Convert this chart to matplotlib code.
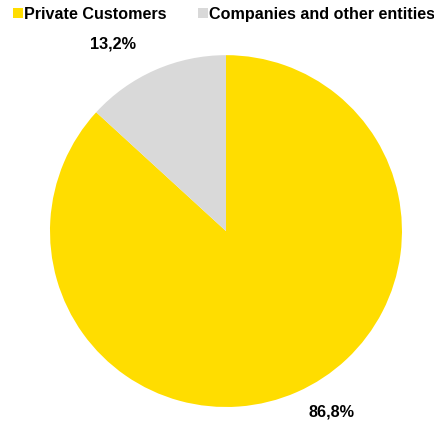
import matplotlib.pyplot as plt
from matplotlib.lines import Line2D

plt.rcParams['font.family'] = ['Liberation Sans', 'DejaVu Sans']

# customer split
labels = ['Private Customers', 'Companies and other entities']
shares = [86.8, 13.2]
colors = ['#FFDD00', '#D9D9D9']
label_pos = [(0.60, -1.02), (-0.64, 1.07)]

fig = plt.figure(figsize=(4.34, 4.27), dpi=100)
ax = fig.add_axes([0.1152, 0.0445, 0.811, 0.824])

ax.pie(shares, colors=colors, startangle=90, counterclock=False, radius=1,
       wedgeprops=dict(linewidth=0))
ax.set_xlim(-1, 1)
ax.set_ylim(-1, 1)
ax.set_aspect('auto')
ax.axis('off')

for val, (x, y) in zip(shares, label_pos):
    ax.text(x, y, f'{val:.1f}%'.replace('.', ','), ha='center', va='center',
            fontsize=11.7, fontweight='bold', clip_on=False)

handles = [Line2D([0], [0], marker='s', linestyle='', markersize=7,
                  markerfacecolor=c, markeredgewidth=0) for c in colors]
leg = fig.legend(handles, labels, loc='upper left', bbox_to_anchor=(0.015, 1.0),
                 ncol=2, frameon=False, prop=dict(size=11.6, weight='bold'),
                 handlelength=0.55, handletextpad=0.1, columnspacing=2.0,
                 borderaxespad=0.05)

fig.savefig('out.png', dpi=100)
